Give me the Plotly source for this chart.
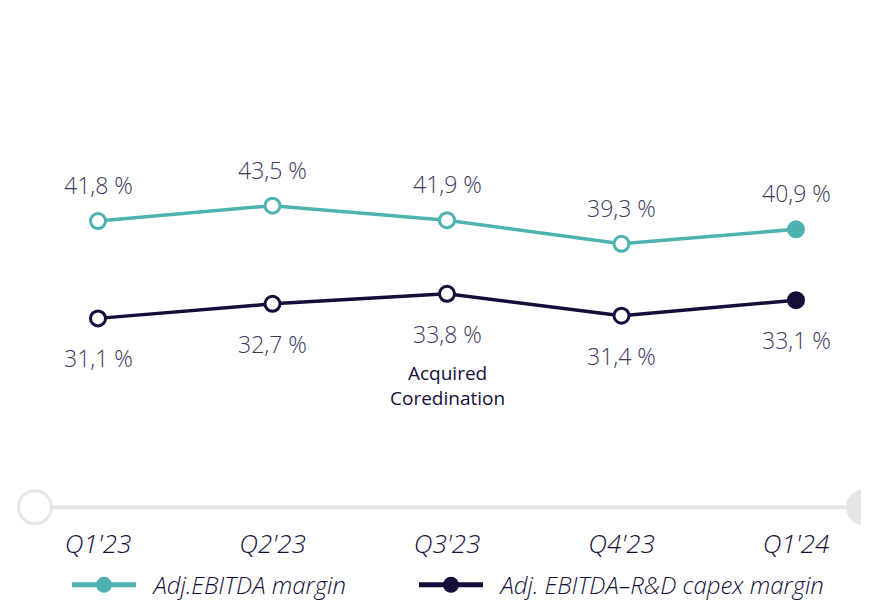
import plotly.graph_objects as go

quarters = ["Q1'23", "Q2'23", "Q3'23", "Q4'23", "Q1'24"]
ebitda_margin = [41.8, 43.5, 41.9, 39.3, 40.9]
ebitda_rd_margin = [31.1, 32.7, 33.8, 31.4, 33.1]
ebitda_labels = ["41,8 %", "43,5 %", "41,9 %", "39,3 %", "40,9 %"]
ebitda_rd_labels = ["31,1 %", "32,7 %", "33,8 %", "31,4 %", "33,1 %"]
note_text = "Acquired<br>Coredination"

TEAL = "#4eb3b0"
NAVY = "#160d3a"
TEXT = "#3b385c"
GREY = "#e6e6e6"
FONT = "Open Sans"
# body keeps its 8px margin; the photo squeezes the page a little vertically,
# so target y positions are stretched by K before placing them
PAD = 8
K = 1 / 0.975
W, H = 869 - 2 * PAD, 600

x_idx = list(range(len(quarters)))

fig = go.Figure()


def add_series(values, color, name, legend_id):
    fills = ["white"] * (len(values) - 1) + [color]
    fig.add_trace(go.Scatter(
        x=x_idx, y=values, mode="lines+markers", showlegend=False,
        line=dict(color=color, width=3.5),
        marker=dict(size=15, color=fills, line=dict(color=color, width=3)),
        hoverinfo="skip"))
    # legend entry with solid marker
    fig.add_trace(go.Scatter(
        x=[None], y=[None], mode="lines+markers", name="\u00a0\u00a0" + name,
        legend=legend_id,
        line=dict(color=color, width=5),
        marker=dict(size=24, color=color)))


add_series(ebitda_margin, TEAL, "Adj.EBITDA margin", "legend")
add_series(ebitda_rd_margin, NAVY, "Adj. EBITDA\u2013R&D capex margin", "legend2")

for i, (v, t) in enumerate(zip(ebitda_margin, ebitda_labels)):
    fig.add_annotation(x=i, y=v, text=t, showarrow=False, yshift=35 * K,
                       font=dict(family=FONT, size=23, color=TEXT, weight=300))
for i, (v, t) in enumerate(zip(ebitda_rd_margin, ebitda_rd_labels)):
    fig.add_annotation(x=i, y=v, text=t, showarrow=False, yshift=-39 * K,
                       font=dict(family=FONT, size=23, color=TEXT, weight=300))

fig.add_annotation(x=2, y=ebitda_rd_margin[2], text=note_text, showarrow=False,
                   yshift=-89 * K, font=dict(family=FONT, size=19, color=NAVY))


def px(x):
    return (x - PAD) / W


def py(y):
    return (H - (y * K - PAD)) / H


# decorative timeline slider
r = 16.5
fig.add_shape(type="line", xref="paper", yref="paper", x0=px(35), x1=1.0,
              y0=py(507), y1=py(507), line=dict(color=GREY, width=4), layer="below")
fig.add_shape(type="circle", xref="paper", yref="paper",
              x0=px(35 - r), x1=px(35 + r), y0=py(507 + r), y1=py(507 - r),
              fillcolor="white", line=dict(color=GREY, width=3))
fig.add_shape(type="circle", xref="paper", yref="paper",
              x0=px(864 - r), x1=px(864 + r), y0=py(507 + r), y1=py(507 - r),
              fillcolor=GREY, line=dict(color=GREY, width=3))

legend_style = dict(orientation="h", xanchor="left", yanchor="middle", y=py(585),
                    bgcolor="rgba(0,0,0,0)", itemwidth=64,
                    font=dict(family=FONT, size=24, color=NAVY, style="italic", weight=300))

fig.update_layout(
    width=W, height=H,
    margin=dict(l=0, r=0, t=0, b=0),
    plot_bgcolor="white", paper_bgcolor="white",
    font=dict(family=FONT, color=TEXT),
    showlegend=True,
    legend=dict(x=px(67), **legend_style),
    legend2=dict(x=px(414), **legend_style),
    hovermode=False,
)
step = 174.5
first_x = 98 - PAD
fig.update_xaxes(range=[-first_x / step, (W - first_x) / step], tickvals=x_idx, ticktext=quarters,
                 showgrid=False, zeroline=False, showline=False, ticks="",
                 tickfont=dict(family=FONT, size=26, color=NAVY, style="italic", weight=300),
                 ticklabelstandoff=56, fixedrange=True, automargin=False)
fig.update_yaxes(range=[14.4, 51.8], domain=[py(470), py(130)], visible=False,
                 fixedrange=True, automargin=False)

fig.write_html("out.html", config={"displayModeBar": False})
